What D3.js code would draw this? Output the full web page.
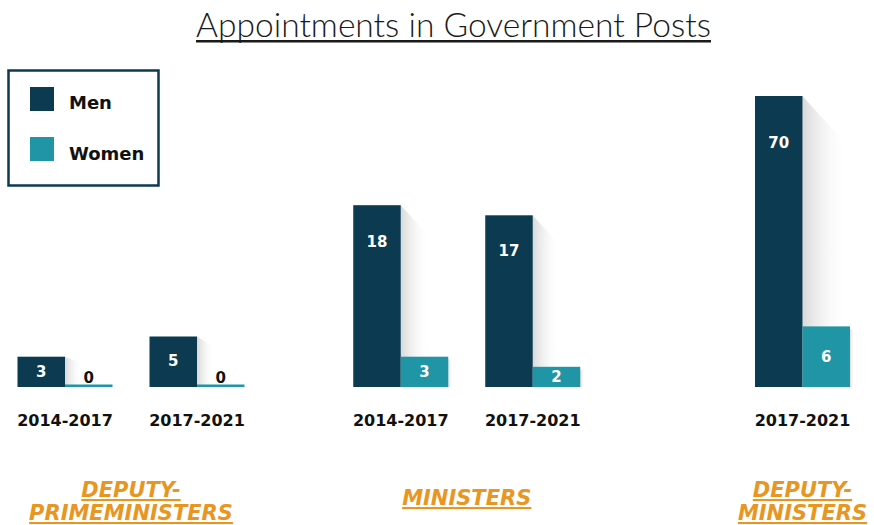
<!DOCTYPE html>
<html>
<head>
<meta charset="utf-8">
<script src="https://cdn.jsdelivr.net/npm/d3@7"></script>
<style>
  body { margin: 0; background: #fff; }
  svg { display: block; }
</style>
</head>
<body>
<div id="chart"></div>
<script>
// data
const groupNames = ["DEPUTY-PRIMEMINISTERS", "MINISTERS", "DEPUTY-MINISTERS"];
const groupLines = [["DEPUTY-", "PRIMEMINISTERS"], ["MINISTERS"], ["DEPUTY-", "MINISTERS"]];
const periodGroup = [0, 0, 1, 1, 2];
const periodLabels = ["2014-2017", "2017-2021", "2014-2017", "2017-2021", "2017-2021"];
const menValues = [3, 5, 18, 17, 70];
const womenValues = [0, 0, 3, 2, 6];
const genders = ["Men", "Women"];

const width = 874, height = 525;
const colors = { Men: "#0b3a51", Women: "#1f95a5" };
const orange = "#e8961f";

const svg = d3.select("#chart").append("svg")
    .attr("width", width)
    .attr("height", height);

const defs = svg.append("defs");
const grad = defs.append("linearGradient").attr("id", "shade")
    .attr("x1", "0%").attr("x2", "100%").attr("y1", "0%").attr("y2", "0%");
grad.append("stop").attr("offset", "0%").attr("stop-color", "#d9d9d9");
grad.append("stop").attr("offset", "100%").attr("stop-color", "#ffffff").attr("stop-opacity", 0.2);

// scales
const xGroup = d3.scalePoint().domain(groupNames).range([131, 802.5]);
const xGender = d3.scaleBand().domain(genders).range([-47.5, 47.5]);
// broken scale: 10 px per unit up to 20, compressed above
const y = d3.scaleLinear().domain([0, 20, 70]).range([387, 185, 96]);
const baseline = y(0);

// build rows
const rows = periodLabels.map((p, i) => {
    const g = groupNames[periodGroup[i]];
    const periodsOfGroup = periodLabels.filter((q, j) => periodGroup[j] === periodGroup[i]);
    const idx = periodLabels.slice(0, i).filter((q, j) => periodGroup[j] === periodGroup[i]).length;
    const inner = d3.scalePoint().domain(d3.range(periodsOfGroup.length))
        .range([xGroup(g) - 66, xGroup(g) + 66]);
    return { period: p, group: g, cx: inner(idx), Men: menValues[i], Women: womenValues[i] };
});

// title
const title = svg.append("text")
    .attr("x", 453.5).attr("y", 37)
    .attr("text-anchor", "middle")
    .style("font-family", "Lato, 'Open Sans', sans-serif")
    .style("font-weight", 300)
    .style("font-size", "32px")
    .attr("fill", "#1a1a1a")
    .text("Appointments in Government Posts");
const tw = title.node().getComputedTextLength();
title.style("font-size", (32 * 515 / tw) + "px");
svg.append("rect").attr("x", 196).attr("y", 40).attr("width", 515).attr("height", 2.5).attr("fill", "#1a1a1a");

// legend
const legend = svg.append("g");
legend.append("rect")
    .attr("x", 8.5).attr("y", 70.5).attr("width", 150).attr("height", 115)
    .attr("fill", "#fff").attr("stroke", colors.Men).attr("stroke-width", 2.5);
genders.forEach((gname, i) => {
    legend.append("rect")
        .attr("x", 30).attr("y", 87 + i * 50).attr("width", 24).attr("height", 24)
        .attr("fill", colors[gname]);
    legend.append("text")
        .attr("x", 69).attr("y", 103 + i * 51)
        .attr("dy", "0.36em")
        .style("font-family", "'DejaVu Sans', Verdana, sans-serif")
        .style("font-weight", "bold")
        .style("font-size", "18px")
        .attr("fill", "#111")
        .text(gname);
});

const bars = svg.append("g");
const fontBold = "'DejaVu Sans', Verdana, sans-serif";

rows.forEach(d => {
    const xm = d.cx + xGender("Men");
    const xw = d.cx + xGender("Women");
    const bw = xGender.bandwidth();
    const mTop = y(d.Men);
    const mh = baseline - mTop;

    // shadow behind the men bar
    const dx = Math.max(16, 0.145 * mh);
    const dy = Math.min(dx * 1.1, 0.2 * mh);
    bars.append("path")
        .attr("d", `M${xm + bw},${mTop} L${xm + bw + dx},${mTop + dy} L${xm + bw + dx},${baseline} L${xm + bw},${baseline} Z`)
        .attr("fill", "url(#shade)");

    bars.append("rect")
        .attr("x", xm).attr("y", mTop).attr("width", bw).attr("height", mh)
        .attr("fill", colors.Men);

    const wTop = Math.min(y(d.Women), baseline - 2.5);
    const wh = baseline - wTop;
    if (d.Women > 0) {
        bars.append("rect")
            .attr("x", xw + bw).attr("y", wTop + 3).attr("width", 4).attr("height", wh - 3)
            .attr("fill", "url(#shade)");
    }
    bars.append("rect")
        .attr("x", xw).attr("y", wTop).attr("width", bw).attr("height", wh)
        .attr("fill", colors.Women);

    // value labels
    bars.append("text")
        .attr("x", xm + bw / 2)
        .attr("y", mTop + Math.min(mh / 2, 20 + 0.09 * mh))
        .attr("dy", "0.36em")
        .attr("text-anchor", "middle")
        .style("font-family", fontBold).style("font-weight", "bold").style("font-size", "15px")
        .attr("fill", "#fff")
        .text(d.Men);

    bars.append("text")
        .attr("x", xw + bw / 2)
        .attr("y", d.Women > 0 ? wTop + wh / 2 : baseline - 9)
        .attr("dy", "0.36em")
        .attr("text-anchor", "middle")
        .style("font-family", fontBold).style("font-weight", "bold").style("font-size", "15px")
        .attr("fill", d.Women > 0 ? "#fff" : "#111")
        .text(d.Women);

    // period label
    bars.append("text")
        .attr("x", d.cx).attr("y", 426)
        .attr("text-anchor", "middle")
        .style("font-family", fontBold).style("font-weight", "bold").style("font-size", "16px")
        .attr("fill", "#111")
        .text(d.period);
});

// group labels, one text per line
groupNames.forEach((g, i) => {
    const lines = groupLines[i];
    const y0 = lines.length === 1 ? 505 : 497;
    lines.forEach((ln, k) => {
        svg.append("text")
            .attr("x", xGroup(g))
            .attr("y", y0 + k * 23)
            .attr("text-anchor", "middle")
            .style("font-family", fontBold)
            .style("font-weight", "bold")
            .style("font-style", "italic")
            .style("font-size", "21px")
            .style("text-decoration", "underline")
            .attr("fill", orange)
            .text(ln);
    });
});
</script>
</body>
</html>
